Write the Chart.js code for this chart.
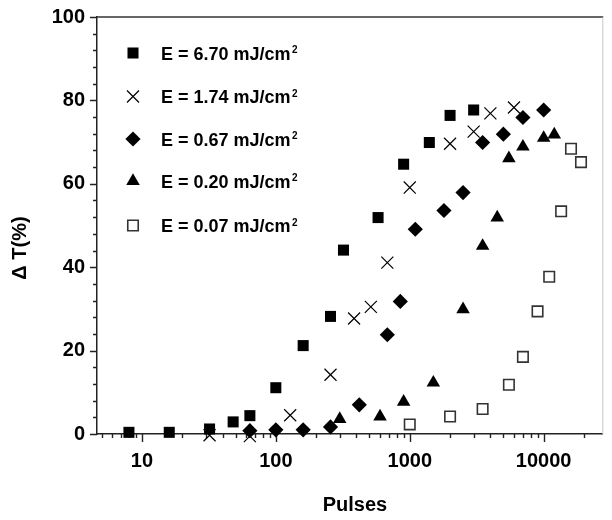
<!DOCTYPE html>
<html>
<head>
<meta charset="utf-8">
<script src="https://cdn.jsdelivr.net/npm/chart.js@4.4.1/dist/chart.umd.min.js"></script>
<style>
  html, body { margin: 0; padding: 0; background: #fff; }
  #wrap { width: 612px; height: 520px; }
</style>
</head>
<body>
<div id="wrap"><canvas id="chart" width="612" height="520"></canvas></div>
<script>
// pulses (x) and change of transmission dT in % (y)
const pulses670 = [8, 16, 32, 48, 64, 100, 160, 256, 320, 580, 900, 1400, 2000, 3000];
const dT670 = [0.4, 0.4, 1.2, 2.9, 4.4, 11.1, 21.2, 28.2, 44.1, 51.9, 64.7, 69.9, 76.4, 77.7];
const pulses174 = [32, 64, 128, 256, 384, 512, 680, 1000, 2000, 3000, 4000, 6000];
const dT174 = [-0.3, -0.5, 4.5, 14.2, 27.7, 30.5, 41.1, 59.1, 69.6, 72.5, 76.9, 78.3];
const pulses067 = [64, 100, 160, 256, 420, 680, 850, 1100, 1800, 2500, 3500, 5000, 7000, 10000];
const dT067 = [0.8, 1.0, 1.0, 1.7, 7.0, 23.8, 31.8, 49.1, 53.6, 57.9, 69.9, 71.9, 75.9, 77.7];
const pulses020 = [300, 600, 900, 1500, 2500, 3500, 4500, 5500, 7000, 10000, 12000];
const dT020 = [3.6, 4.2, 7.7, 12.3, 29.9, 45.1, 51.9, 66.1, 68.9, 71.0, 71.8];
const pulses007 = [1000, 2000, 3500, 5500, 7000, 9000, 11000, 13500, 16000, 19000];
const dT007 = [2.3, 4.2, 6.0, 11.8, 18.5, 29.4, 37.7, 53.4, 68.4, 65.2];

const energies = ['6.70', '1.74', '0.67', '0.20', '0.07'];

// axis ticks
const xMajor = [10, 100, 1000, 10000];
const yMajor = [0, 20, 40, 60, 80, 100];
const yMinorStep = 4;
const xMin = 4.62, xMax = 27400;

const FONT = '"Liberation Sans", Arial, sans-serif';
Chart.defaults.font.family = FONT;
Chart.defaults.color = '#000';

function xTickValues() {
  const out = [];
  for (let d = 1; d <= 10000; d *= 10)
    for (let k = 1; k <= 9; k++) {
      const v = k * d;
      if (v >= xMin && v <= xMax) out.push(v);
    }
  return out;
}
function yTickValues() {
  const out = [];
  for (let v = 0; v <= 100; v += yMinorStep) out.push(v);
  return out;
}

function pts(xs, ys) {
  return xs.map((x, i) => ({ x: x, y: ys[i] }));
}

const styles = [
  { pointStyle: 'rect', pointRadius: 7.8, pointBackgroundColor: '#000', pointBorderColor: '#000', pointBorderWidth: 0 },
  { pointStyle: 'crossRot', pointRadius: 8.5, pointBackgroundColor: '#000', pointBorderColor: '#000', pointBorderWidth: 1.2 },
  { pointStyle: 'rectRot', pointRadius: 7.6, pointBackgroundColor: '#000', pointBorderColor: '#000', pointBorderWidth: 0 },
  { pointStyle: 'triangle', pointRadius: 7.8, pointBackgroundColor: '#000', pointBorderColor: '#000', pointBorderWidth: 0 },
  { pointStyle: 'rect', pointRadius: 7.4, pointBackgroundColor: '#fff', pointBorderColor: '#333', pointBorderWidth: 1.6 }
];

const series = [
  pts(pulses670, dT670),
  pts(pulses174, dT174),
  pts(pulses067, dT067),
  pts(pulses020, dT020),
  pts(pulses007, dT007)
];

const datasets = series.map((d, i) => Object.assign({
  label: 'E = ' + energies[i] + ' mJ/cm2',
  data: d,
  showLine: false,
  clip: false
}, styles[i]));

const decorations = {
  id: 'decorations',
  beforeDatasetsDraw(chart) {
    const ctx = chart.ctx;
    const a = chart.chartArea;
    const xs = chart.scales.x, ys = chart.scales.y;
    ctx.save();
    ctx.strokeStyle = '#222';
    ctx.lineWidth = 1.4;
    ctx.beginPath();
    xs.ticks.forEach(t => {
      const px = Math.round(xs.getPixelForValue(t.value)) + 0.5;
      const len = xMajor.includes(t.value) ? 8 : 4;
      ctx.moveTo(px, a.bottom);
      ctx.lineTo(px, a.bottom + len);
    });
    ys.ticks.forEach(t => {
      const py = Math.round(ys.getPixelForValue(t.value)) + 0.5;
      const len = yMajor.includes(t.value) ? 7 : 4;
      ctx.moveTo(a.left - len, py);
      ctx.lineTo(a.left, py);
    });
    ctx.stroke();
    // top frame line
    ctx.beginPath();
    ctx.strokeStyle = '#333';
    ctx.lineWidth = 1.5;
    ctx.moveTo(a.left, a.top);
    ctx.lineTo(a.right + 1, a.top);
    ctx.stroke();
    ctx.beginPath();
    ctx.strokeStyle = '#c8c8c8';
    ctx.lineWidth = 1;
    ctx.moveTo(a.right + 0.5, a.top);
    ctx.lineTo(a.right + 0.5, a.bottom);
    ctx.stroke();
    ctx.restore();
  },
  afterDraw(chart) {
    const ctx = chart.ctx;
    ctx.save();
    ctx.fillStyle = '#000';
    // axis titles
    ctx.font = 'bold 20px ' + FONT;
    ctx.textAlign = 'center';
    ctx.textBaseline = 'middle';
    ctx.fillText('Pulses', 355, 505);
    ctx.translate(20, 248);
    ctx.rotate(-Math.PI / 2);
    ctx.fillText('\u0394 T(%)', 0, 0);
    ctx.setTransform(1, 0, 0, 1, 0, 0);
    // legend
    const rows = [53, 96.5, 139, 181, 225.5];
    rows.forEach((cy, i) => {
      const st = styles[i];
      ctx.fillStyle = st.pointBackgroundColor;
      ctx.strokeStyle = st.pointBorderColor;
      ctx.lineWidth = st.pointBorderWidth;
      Chart.helpers.drawPoint(ctx, {
        pointStyle: st.pointStyle,
        radius: st.pointRadius,
        rotation: 0,
        borderWidth: st.pointBorderWidth
      }, 133, cy);
      ctx.fillStyle = '#000';
      ctx.font = 'bold 18px ' + FONT;
      ctx.textAlign = 'left';
      ctx.textBaseline = 'alphabetic';
      const txt = 'E = ' + energies[i] + ' mJ/cm';
      const base = cy + 6.5;
      ctx.fillText(txt, 161, base);
      const w = ctx.measureText(txt).width;
      ctx.font = 'bold 10px ' + FONT;
      ctx.fillText('2', 161 + w + 1.5, base - 6.5);
    });
    ctx.restore();
  }
};

new Chart(document.getElementById('chart'), {
  type: 'scatter',
  data: { datasets: datasets },
  options: {
    responsive: false,
    animation: false,
    layout: { padding: { top: 17, right: 1, left: 0, bottom: 0 } },
    plugins: { legend: { display: false }, tooltip: { enabled: false }, title: { display: false } },
    scales: {
      x: {
        type: 'logarithmic',
        min: xMin,
        max: xMax,
        afterBuildTicks: s => { s.ticks = xTickValues().map(v => ({ value: v })); },
        afterFit: s => { s.height = 86; },
        ticks: {
          autoSkip: false,
          maxRotation: 0,
          padding: 7,
          font: { size: 20, weight: 'bold' },
          color: '#000',
          callback: v => xMajor.includes(v) ? String(v) : ''
        },
        grid: { display: true, drawOnChartArea: false, drawTicks: true, tickLength: 8, tickColor: 'rgba(0,0,0,0)' },
        border: { display: true, color: '#222', width: 1.5 }
      },
      y: {
        type: 'linear',
        min: 0,
        max: 100,
        afterBuildTicks: s => { s.ticks = yTickValues().map(v => ({ value: v })); },
        afterFit: s => { s.width = 97; },
        ticks: {
          autoSkip: false,
          padding: 5,
          font: { size: 20, weight: 'bold' },
          color: '#000',
          callback: v => yMajor.includes(v) ? String(v) : ''
        },
        grid: { display: true, drawOnChartArea: false, drawTicks: true, tickLength: 7, tickColor: 'rgba(0,0,0,0)' },
        border: { display: true, color: '#222', width: 1.5 }
      }
    }
  },
  plugins: [decorations]
});
</script>
</body>
</html>
